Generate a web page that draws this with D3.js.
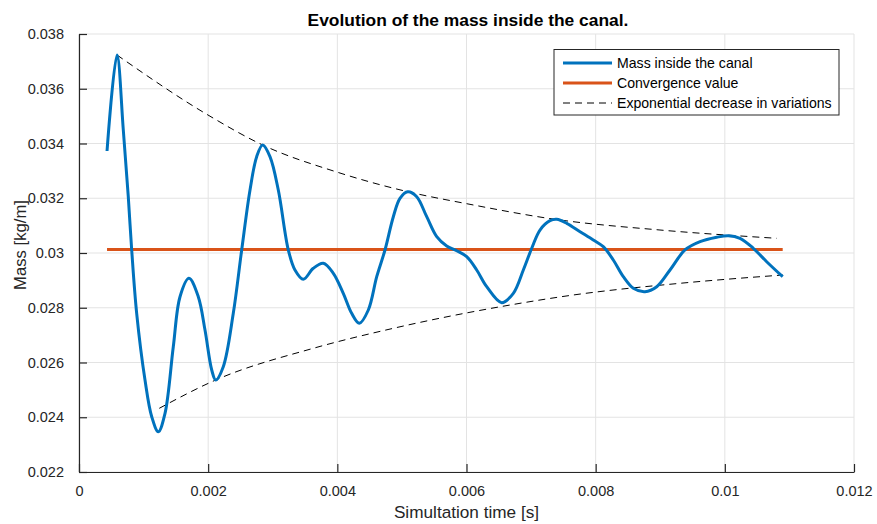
<!DOCTYPE html>
<html><head><meta charset="utf-8">
<script src="https://cdn.jsdelivr.net/npm/d3@7"></script>
<style>
body{margin:0;background:#fff;}
text{font-family:"Liberation Sans",Arial,Helvetica,sans-serif;}
</style></head>
<body><svg id="c" width="877" height="524"></svg>
<script>
// Mass inside the canal
const massT = [0.000434,0.000588,0.000686,0.000763,0.000816,0.000893,0.001022,0.001126,0.001228,0.001332,0.001460,0.001564,0.001703,0.001847,0.001951,0.002055,0.002117,0.002234,0.002389,0.002519,0.002648,0.002751,0.002844,0.002957,0.003086,0.003241,0.003344,0.003473,0.003628,0.003783,0.003938,0.004092,0.004222,0.004340,0.004480,0.004610,0.004738,0.004867,0.004970,0.005090,0.005229,0.005384,0.005539,0.005693,0.005848,0.006003,0.006158,0.006313,0.006545,0.006725,0.006880,0.007010,0.007138,0.007293,0.007397,0.007552,0.007758,0.007963,0.008118,0.008273,0.008428,0.008583,0.008764,0.008945,0.009151,0.009383,0.009616,0.009874,0.010054,0.010235,0.010441,0.010648,0.010896];
const massV = [0.033726,0.037233,0.034493,0.032057,0.030110,0.027797,0.025361,0.024020,0.023472,0.024144,0.026577,0.028404,0.029076,0.028404,0.027187,0.025726,0.025361,0.025847,0.027797,0.030110,0.032301,0.033518,0.033945,0.033518,0.032301,0.030110,0.029379,0.029039,0.029441,0.029624,0.029258,0.028528,0.027797,0.027432,0.027918,0.029134,0.030110,0.031326,0.031998,0.032239,0.032057,0.031326,0.030595,0.030256,0.030084,0.029865,0.029379,0.028769,0.028185,0.028528,0.029379,0.030172,0.030840,0.031180,0.031231,0.031085,0.030778,0.030475,0.030230,0.029744,0.029134,0.028710,0.028586,0.028769,0.029379,0.030110,0.030413,0.030574,0.030632,0.030537,0.030172,0.029682,0.029134];
// Convergence value
const convT = [0.000434,0.010896];
const convV = [0.03013,0.03013];
// Exponential envelopes
const upperT = [0.000588,0.001997,0.002844,0.003990,0.005090,0.006003,0.007370,0.008996,0.010803];
const upperV = [0.037233,0.035041,0.033945,0.032959,0.032239,0.031801,0.031231,0.030840,0.030537];
const lowerT = [0.001243,0.002117,0.003628,0.004867,0.006674,0.007654,0.009306,0.010896];
const lowerV = [0.024327,0.025361,0.026519,0.027249,0.028100,0.028466,0.028893,0.029196];
const xTicks = [0,0.002,0.004,0.006,0.008,0.01,0.012];
const xTickLabels = ["0","0.002","0.004","0.006","0.008","0.01","0.012"];
const yTicks = [0.022,0.024,0.026,0.028,0.03,0.032,0.034,0.036,0.038];
const yTickLabels = ["0.022","0.024","0.026","0.028","0.03","0.032","0.034","0.036","0.038"];
const legendLabels = ["Mass inside the canal","Convergence value","Exponential decrease in variations"];

const svg = d3.select("#c");
const L=79,R=854,T=34,B=472;
const x = d3.scaleLinear().domain([0,0.012]).range([L,R]);
const y = d3.scaleLinear().domain([0.022,0.038]).range([B,T]);
const axisCol="#262626";

// grid
const g = svg.append("g");
g.selectAll(".gx").data(xTicks).enter().append("line")
 .attr("x1",d=>x(d)).attr("x2",d=>x(d)).attr("y1",T).attr("y2",B)
 .attr("stroke","#e3e3e3").attr("stroke-width",1);
g.selectAll(".gy").data(yTicks).enter().append("line")
 .attr("y1",d=>y(d)).attr("y2",d=>y(d)).attr("x1",L).attr("x2",R)
 .attr("stroke","#e3e3e3").attr("stroke-width",1);

// axes
const xa = svg.append("g").attr("transform",`translate(0,${B})`)
 .call(d3.axisBottom(x).tickValues(xTicks).tickFormat((d,i)=>xTickLabels[i]).tickSizeInner(-8).tickSizeOuter(0).tickPadding(14));
const ya = svg.append("g").attr("transform",`translate(${L},0)`)
 .call(d3.axisLeft(y).tickValues(yTicks).tickFormat((d,i)=>yTickLabels[i]).tickSizeInner(-8).tickSizeOuter(0).tickPadding(15));
[xa,ya].forEach(a=>{
 a.select(".domain").attr("stroke",axisCol).attr("stroke-width",1.2);
 a.selectAll(".tick line").attr("stroke",axisCol).attr("stroke-width",1.2);
 a.selectAll(".tick text").attr("fill",axisCol).style("font-size","14.5px").style("font-family","Liberation Sans, Arial, sans-serif");
});

// lines
const line = d3.line().x(d=>x(d[0])).y(d=>y(d[1]));
svg.append("path").datum(d3.zip(upperT,upperV))
 .attr("d",line.curve(d3.curveMonotoneX)).attr("fill","none").attr("stroke","#000").attr("stroke-width",1).attr("stroke-dasharray","7,5");
svg.append("path").datum(d3.zip(lowerT,lowerV))
 .attr("d",line.curve(d3.curveMonotoneX)).attr("fill","none").attr("stroke","#000").attr("stroke-width",1).attr("stroke-dasharray","7,5");
svg.append("path").datum(d3.zip(convT,convV))
 .attr("d",line.curve(d3.curveLinear)).attr("fill","none").attr("stroke","#D95319").attr("stroke-width",3);
svg.append("path").datum(d3.zip(massT,massV))
 .attr("d",line.curve(d3.curveCatmullRom.alpha(0.5))).attr("fill","none").attr("stroke","#0072BD").attr("stroke-width",3).attr("stroke-linejoin","round");

// title & labels
svg.append("text").attr("x",468).attr("y",26).attr("text-anchor","middle")
 .style("font-size","17.4px").style("font-weight","bold").attr("fill","#000").text("Evolution of the mass inside the canal.");
svg.append("text").attr("x",(L+R)/2).attr("y",518).attr("text-anchor","middle")
 .style("font-size","17.2px").attr("fill",axisCol).text("Simultation time [s]");
svg.append("text").attr("transform",`translate(25.5,245) rotate(-90)`).attr("text-anchor","middle")
 .style("font-size","16.7px").attr("fill",axisCol).text("Mass [kg/m]");

// legend
const lg = svg.append("g");
lg.append("rect").attr("x",554).attr("y",49.5).attr("width",285).attr("height",65.5)
 .attr("fill","#fff").attr("stroke","#262626").attr("stroke-width",1);
const styles=[{c:"#0072BD",w:3,d:null},{c:"#D95319",w:3,d:null},{c:"#000",w:1,d:"7,5"}];
legendLabels.forEach((t,i)=>{
 const yy=63+i*20;
 const ln=lg.append("line").attr("x1",563).attr("x2",612).attr("y1",yy).attr("y2",yy)
  .attr("stroke",styles[i].c).attr("stroke-width",styles[i].w);
 if(styles[i].d) ln.attr("stroke-dasharray",styles[i].d);
 lg.append("text").attr("x",617).attr("y",yy+5).style("font-size","14.1px").attr("fill","#000").text(t);
});
</script></body></html>
